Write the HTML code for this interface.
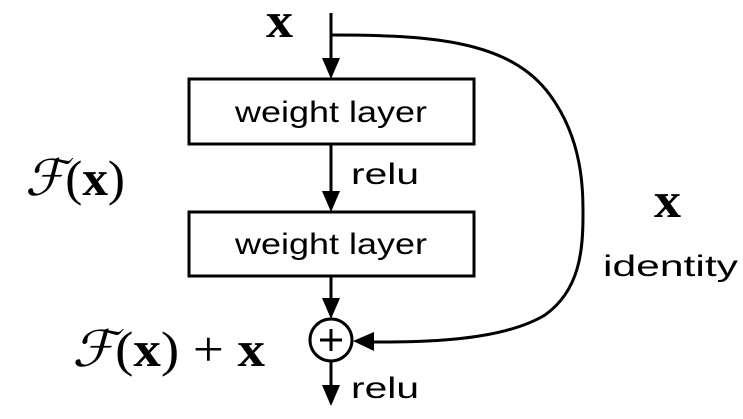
<!DOCTYPE html>
<html><head><meta charset="utf-8"><style>html,body{margin:0;padding:0;background:#fff}svg{display:block}</style></head>
<body>
<svg width="743" height="419" viewBox="0 0 743 419" xmlns="http://www.w3.org/2000/svg">
<g stroke="#000" stroke-width="3" fill="none">
<line x1="331" y1="13" x2="331" y2="62"/>
<rect x="189" y="79" width="285" height="65" fill="#fff"/>
<line x1="331" y1="144" x2="331" y2="196"/>
<rect x="189" y="212" width="285" height="64" fill="#fff"/>
<line x1="331" y1="276" x2="331" y2="305"/>
<circle cx="331" cy="340" r="21"/>
<line x1="320" y1="340" x2="342" y2="340"/>
<line x1="331" y1="329" x2="331" y2="351"/>
<line x1="331" y1="361" x2="331" y2="390"/>
<path d="M331 35 C 430 35, 510 40, 550 95 C 583 140, 583 190, 583 215 C 583 250, 580 290, 545 315 C 500 342, 420 342, 370 342"/>
</g>
<g fill="#000">
<polygon points="331,79 322,58 340,58"/>
<polygon points="331,212 322,191 340,191"/>
<polygon points="331,319 322,298 340,298"/>
<polygon points="331,406 322,385 340,385"/>
<polygon points="353,341 374,332 374,351"/>
</g>
<g font-family="Liberation Sans, sans-serif" fill="#000" font-size="30">
<text x="235" y="122" textLength="192" lengthAdjust="spacingAndGlyphs">weight layer</text>
<text x="235" y="254" textLength="192" lengthAdjust="spacingAndGlyphs">weight layer</text>
<text x="351" y="184" textLength="68" lengthAdjust="spacingAndGlyphs">relu</text>
<text x="351" y="398" textLength="68" lengthAdjust="spacingAndGlyphs">relu</text>
<text x="603" y="276" textLength="135" lengthAdjust="spacingAndGlyphs">identity</text>
</g>
<g font-family="Liberation Serif, serif" fill="#000" font-size="50">
<text x="266" y="37" font-weight="bold" textLength="27" lengthAdjust="spacingAndGlyphs">x</text>
<text x="654" y="217" font-weight="bold" textLength="27" lengthAdjust="spacingAndGlyphs">x</text>
<text x="25" y="195" textLength="100" lengthAdjust="spacingAndGlyphs"><tspan font-style="italic">ℱ</tspan>(<tspan font-weight="bold">x</tspan>)</text>
<text x="72" y="366" textLength="193" lengthAdjust="spacingAndGlyphs"><tspan font-style="italic">ℱ</tspan>(<tspan font-weight="bold">x</tspan>) + <tspan font-weight="bold">x</tspan></text>
</g>
</svg>
</body></html>
